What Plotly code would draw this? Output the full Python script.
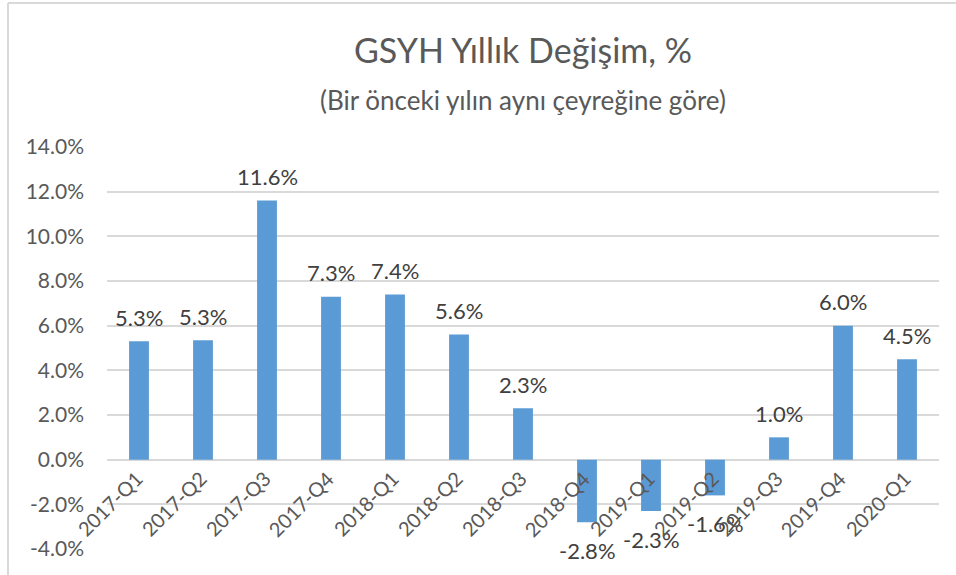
import plotly.graph_objects as go

# ── Data ─────────────────────────────────────────────────────────────
quarters = [
    "2017-Q1", "2017-Q2", "2017-Q3", "2017-Q4",
    "2018-Q1", "2018-Q2", "2018-Q3", "2018-Q4",
    "2019-Q1", "2019-Q2", "2019-Q3", "2019-Q4",
    "2020-Q1",
]
growth = [5.3, 5.35, 11.6, 7.3, 7.4, 5.6, 2.3, -2.8, -2.3, -1.6, 1.0, 6.0, 4.5]
y_ticks = [-4, -2, 0, 2, 4, 6, 8, 10, 12, 14]

TITLE = "GSYH Yıllık Değişim, %"
SUBTITLE = "(Bir önceki yılın aynı çeyreğine göre)"

# ── Style ────────────────────────────────────────────────────────────
BAR = "#5B9BD5"
GRID = "#D9D9D9"
TICK = "#595959"
LABEL = "#404040"
FONT = "Lato, 'Open Sans', sans-serif"

W, H = 956, 575
L, R, T, B = 107, 17, 147, 26


def px_to_paper_x(px):
    return (px - L) / (W - L - R)


def px_to_paper_y(py):
    return (H - B - py) / (H - T - B)


fig = go.Figure()

fig.add_trace(go.Bar(
    x=quarters, y=growth,
    marker=dict(color=BAR, line=dict(width=0)),
    hoverinfo="x+y",
))

# Data labels: above positive bars, below negative ones
for q, v in zip(quarters, growth):
    fig.add_annotation(
        x=q, y=v, xref="x", yref="y",
        text=f"{v:.1f}%", showarrow=False,
        xanchor="center", yanchor="middle",
        yshift=24 if v >= 0 else -28,
        font=dict(family=FONT, size=22, color=LABEL),
    )

# Category labels sit just under the zero line, as in the original
for q in quarters:
    fig.add_annotation(
        x=q, y=0, xref="x", yref="y",
        text=q, showarrow=False, textangle=-45,
        xanchor="right", yanchor="top",
        xshift=10, yshift=-4,
        font=dict(family=FONT, size=20, color=TICK),
    )

# Title and subtitle
fig.add_annotation(
    x=0.5, y=px_to_paper_y(50), xref="paper", yref="paper",
    text=TITLE, showarrow=False, xanchor="center", yanchor="middle",
    font=dict(family=FONT, size=34, color=TICK),
)
fig.add_annotation(
    x=0.5, y=px_to_paper_y(100), xref="paper", yref="paper",
    text=SUBTITLE, showarrow=False, xanchor="center", yanchor="middle",
    font=dict(family=FONT, size=26, color=TICK),
)

# Chart-area border (left and top edges are visible in the crop)
fig.add_shape(
    type="line", xref="paper", yref="paper",
    x0=px_to_paper_x(8), x1=px_to_paper_x(8),
    y0=px_to_paper_y(H), y1=px_to_paper_y(3),
    line=dict(color=GRID, width=2), layer="above",
)
fig.add_shape(
    type="line", xref="paper", yref="paper",
    x0=px_to_paper_x(8), x1=px_to_paper_x(W),
    y0=px_to_paper_y(3), y1=px_to_paper_y(3),
    line=dict(color=GRID, width=2), layer="above",
)

fig.update_layout(
    width=W, height=H,
    margin=dict(l=L, r=R, t=T, b=B, autoexpand=False),
    paper_bgcolor="white",
    plot_bgcolor="white",
    showlegend=False,
    bargap=0.69,
    xaxis=dict(
        range=[-0.5, len(quarters) - 0.5],
        showticklabels=False, showgrid=False, zeroline=False,
        showline=False, ticks="", automargin=False,
    ),
    yaxis=dict(
        range=[-4, 14],
        tickvals=y_ticks,
        ticktext=[f"{v:.1f}%" for v in y_ticks],
        tickfont=dict(family=FONT, size=21, color=TICK),
        gridcolor=GRID, gridwidth=1.5,
        zeroline=True, zerolinecolor=GRID, zerolinewidth=1.5,
        showline=False, ticks="", automargin=False,
        ticklabelstandoff=22,
    ),
)

# drop the browser's default body margin so the figure sits at (0, 0)
fig.write_html(
    "out.html",
    config={"displayModeBar": False},
    post_script="document.body.style.margin='0';",
)
